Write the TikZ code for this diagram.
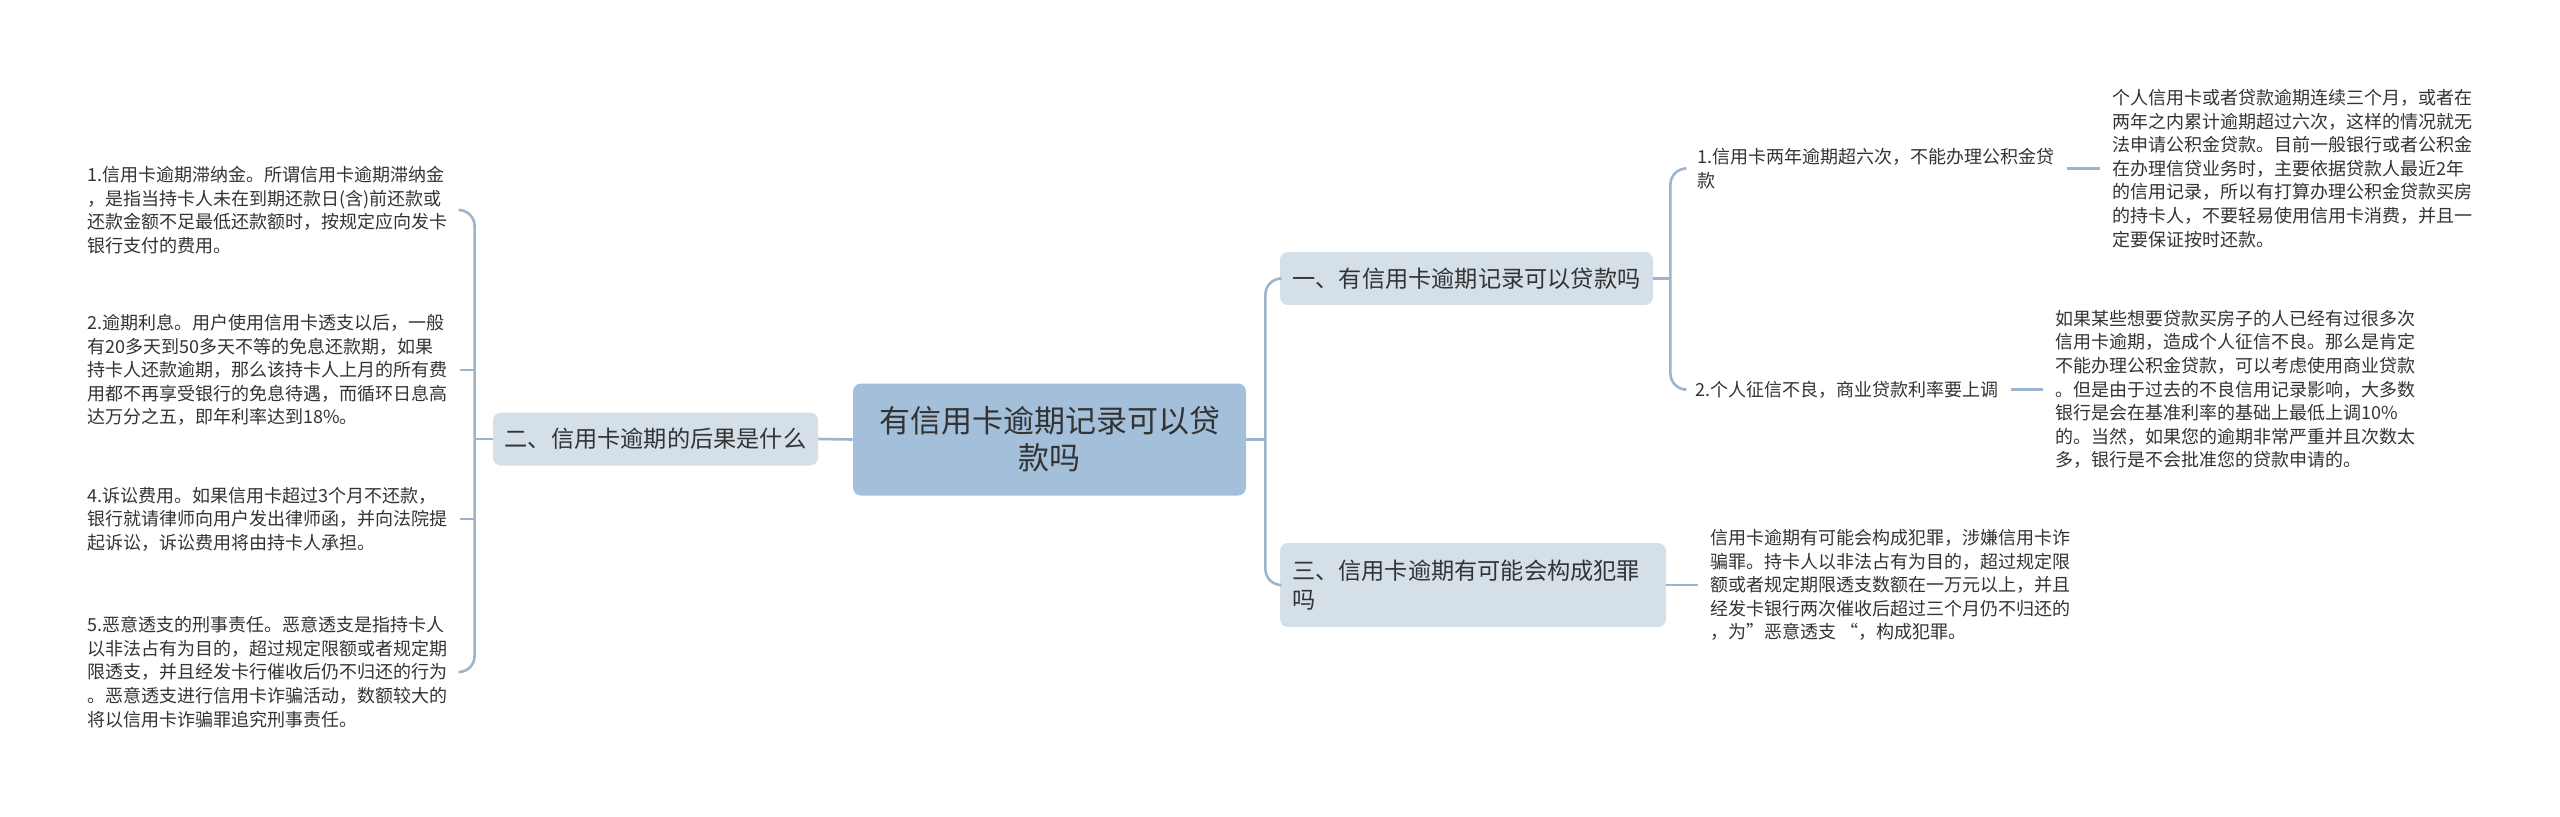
\documentclass[tikz,border=0pt]{standalone}
\usepackage{fontspec}
\setmainfont{Noto Sans CJK SC}
\definecolor{MapRoot}{HTML}{A3BFDA}
\definecolor{MapBranch}{HTML}{D4DFE8}
\definecolor{MapLine}{HTML}{9CB5CD}
\definecolor{MapText}{HTML}{333333}

\begin{document}
\begin{tikzpicture}[x=0.5pt,y=-0.5pt,text=MapText,
  rootbox/.style={fill=MapRoot,rounded corners=4pt,inner sep=0pt,minimum width=196.5pt,minimum height=56pt,align=center,font=\fontsize{15.5}{18.5}\selectfont},
  branchbox/.style={fill=MapBranch,rounded corners=4pt,inner sep=0pt,minimum height=26.5pt,align=left,font=\fontsize{11.6}{14.5}\selectfont},
  leaftext/.style={anchor=west,inner sep=0pt,align=left,font=\fontsize{9}{11.8}\selectfont},
  link/.style={draw=MapLine,line width=1.3pt}]
  \useasboundingbox (0,0) rectangle (2560,816);
  % centre and the three branches
  \node[rootbox] (root) at (1049.5,439.5) {有信用卡逾期记录可以贷\\款吗};
  \node[branchbox,minimum width=162.5pt] (b2) at (655.5,439) {二、信用卡逾期的后果是什么};
  \node[branchbox,minimum width=186.5pt] (b1) at (1466.5,278.5) {一、有信用卡逾期记录可以贷款吗};
  \node[branchbox,minimum width=193pt,minimum height=42pt,text width=181pt] (b3) at (1473,585) {三、信用卡逾期有可能会构成犯罪\\吗};
  % left side
  \node[leaftext,text width=186pt] (l1) at (87,210) {1.信用卡逾期滞纳金。所谓信用卡逾期滞纳金\\，是指当持卡人未在到期还款日(含)前还款或\\还款金额不足最低还款额时，按规定应向发卡\\银行支付的费用。};
  \node[leaftext,text width=186pt] (l2) at (87,370) {2.逾期利息。用户使用信用卡透支以后，一般\\有20多天到50多天不等的免息还款期，如果\\持卡人还款逾期，那么该持卡人上月的所有费\\用都不再享受银行的免息待遇，而循环日息高\\达万分之五，即年利率达到18\%。};
  \node[leaftext,text width=186pt] (l3) at (87,519) {4.诉讼费用。如果信用卡超过3个月不还款，\\银行就请律师向用户发出律师函，并向法院提\\起诉讼，诉讼费用将由持卡人承担。};
  \node[leaftext,text width=186pt] (l4) at (87,672) {5.恶意透支的刑事责任。恶意透支是指持卡人\\以非法占有为目的，超过规定限额或者规定期\\限透支，并且经发卡行催收后仍不归还的行为\\。恶意透支进行信用卡诈骗活动，数额较大的\\将以信用卡诈骗罪追究刑事责任。};
  % right side
  \node[leaftext,inner xsep=6pt] (r1) at (1685,168.5) {1.信用卡两年逾期超六次，不能办理公积金贷\\款};
  \node[leaftext,inner xsep=6pt] (r2) at (1683,389.5) {2.个人征信不良，商业贷款利率要上调};
  \node[leaftext,inner xsep=6pt] (r1t) at (2100,168.5) {个人信用卡或者贷款逾期连续三个月，或者在\\两年之内累计逾期超过六次，这样的情况就无\\法申请公积金贷款。目前一般银行或者公积金\\在办理信贷业务时，主要依据贷款人最近2年\\的信用记录，所以有打算办理公积金贷款买房\\的持卡人，不要轻易使用信用卡消费，并且一\\定要保证按时还款。};
  \node[leaftext,inner xsep=6pt] (r2t) at (2043,389.5) {如果某些想要贷款买房子的人已经有过很多次\\信用卡逾期，造成个人征信不良。那么是肯定\\不能办理公积金贷款，可以考虑使用商业贷款\\。但是由于过去的不良信用记录影响，大多数\\银行是会在基准利率的基础上最低上调10\%\\的。当然，如果您的逾期非常严重并且次数太\\多，银行是不会批准您的贷款申请的。};
  \node[leaftext,inner xsep=6pt] (r3t) at (1698,585) {信用卡逾期有可能会构成犯罪，涉嫌信用卡诈\\骗罪。持卡人以非法占有为目的，超过规定限\\额或者规定期限透支数额在一万元以上，并且\\经发卡银行两次催收后超过三个月仍不归还的\\，为”恶意透支 “，构成犯罪。};
  % connectors
  \draw[link] (root.west) -- (b2.east);
  \draw[link] (b2.west) -- ++(-18,0) coordinate (lj);
  \draw[link,rounded corners=8pt] (l1.east) -| (lj) |- (l4.east);
  \draw[link] (l2.east) -- (l2.east -| lj);
  \draw[link] (l3.east) -- (l3.east -| lj);
  \draw[link] (root.east) -- ++(19,0) coordinate (rj);
  \draw[link,rounded corners=8pt] (b1.west) -| (rj) |- (b3.west);
  \draw[link] (b1.east) -- ++(17,0) coordinate (bj);
  \draw[link,rounded corners=8pt] (r1.west) -| (bj) |- (r2.west);
  \draw[link] (r1.east) -- (r1t.west);
  \draw[link] (r2.east) -- (r2t.west);
  \draw[link] (b3.east) -- (r3t.west);
\end{tikzpicture}
\end{document}
